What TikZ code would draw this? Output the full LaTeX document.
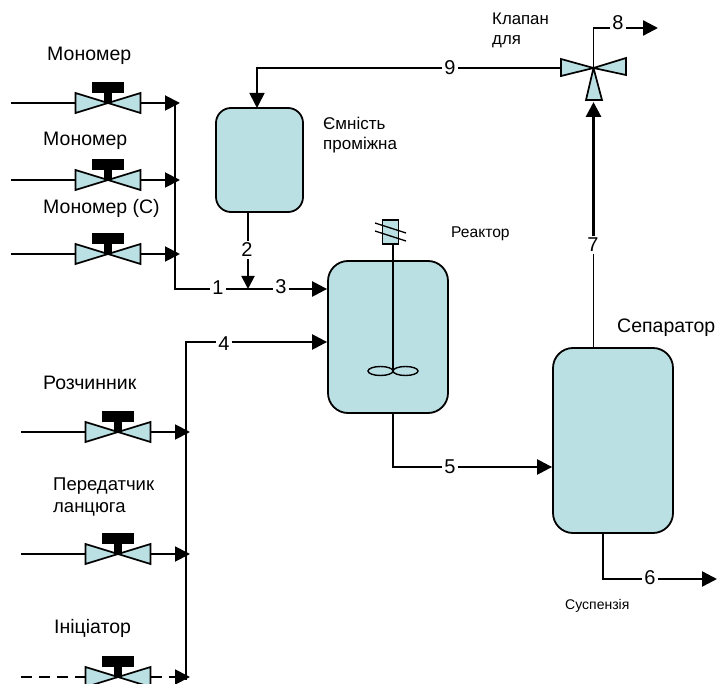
\documentclass[tikz,border=0pt]{standalone}
\usepackage{fontspec}
\setmainfont{Liberation Sans}
\usetikzlibrary{arrows.meta}
\definecolor{tank}{HTML}{BBE0E3}
\tikzset{
  x=1pt,y=-1pt,
  pipe/.style={line width=1.9pt,line join=miter},
  flow/.style={pipe,-{Triangle[length=15pt,width=15pt]}},
  heavy/.style={flow,line width=2.4pt,-{Triangle[length=15pt,width=15pt]}},
  thin pipe/.style={line width=1.3pt},
  vessel/.style={draw,line width=1.8pt,fill=tank,rounded corners=#1,inner sep=0pt},
  num/.style={font=\fontsize{20}{20}\selectfont,inner sep=2pt,outer sep=0pt},
  lab/.style={font=\fontsize{19.5}{22}\selectfont,align=left,inner sep=0pt},
  small/.style={align=left,inner sep=0pt},
  body/.style={draw,line width=1.7pt,fill=tank,line join=miter},
  valve/.pic={
    \coordinate (-w) at (-32.5,0);
    \coordinate (-e) at (32.5,0);
    \path[body] (0,0) -- (-32.5,-10) -- (-32.5,10) -- cycle;
    \path[body] (0,0) -- (32.5,-10) -- (32.5,10) -- cycle;
    \fill (-4,-11) rectangle (4,0);
    \fill (-16,-21) rectangle (16,-10);
  }
}
\begin{document}
\begin{tikzpicture}
\useasboundingbox (0,0) rectangle (717,684);
\begin{scope}
\clip (0,0) rectangle (717,684);
% feed valves
\pic (v1) at (108,103) {valve};
\pic (v2) at (108,180) {valve};
\pic (v3) at (108,254) {valve};
\pic (v4) at (118,432) {valve};
\pic (v5) at (118,554) {valve};
\pic (v6) at (118,677) {valve};
\foreach \n/\y in {1/103,2/180,3/254}{
  \coordinate (s\n) at (11,\y);
  \coordinate (j\n) at (180,\y);
  \draw[pipe] (s\n) -- (v\n-w);
  \draw[flow] (v\n-e) -- (j\n);
}
\foreach \n/\y in {4/432,5/554}{
  \coordinate (s\n) at (21,\y);
  \coordinate (j\n) at (190,\y);
  \draw[pipe] (s\n) -- (v\n-w);
  \draw[flow] (v\n-e) -- (j\n);
}
\coordinate (s6) at (21,677);
\coordinate (j6) at (190,677);
\draw[pipe,dash pattern=on 11pt off 7pt] (s6) -- (v6-w);
\draw[flow,dash pattern=on 11pt off 7pt] (v6-e) -- (j6);
\end{scope}

% vessels
\node[vessel=15pt,minimum width=87pt,minimum height=104pt] (tankA) at (259.5,160) {};
\node[vessel=20pt,minimum width=120pt,minimum height=152pt] (reactor) at (388,337) {};
\node[vessel=20pt,minimum width=120pt,minimum height=185pt] (sep) at (613,440.5) {};

% agitator
\node[draw,line width=1.5pt,fill=tank,minimum width=16pt,minimum height=24pt,inner sep=0pt] (motor) at (390.5,232) {};
\coordinate (sl1a) at (375,223); \coordinate (sl1b) at (406,233);
\coordinate (sl2a) at (375,231); \coordinate (sl2b) at (406,241);
\draw[thin pipe] (sl1a) -- (sl1b);
\draw[thin pipe] (sl2a) -- (sl2b);
\coordinate (hub) at (393,371);
\draw[line width=1.4pt] (hub) ++(-12.5,0) ellipse (12.5pt and 4.5pt);
\draw[line width=1.4pt] (hub) ++(12.5,0) ellipse (12.5pt and 4.5pt);
\draw[line width=1.4pt] (393,244) -- (hub);

% line numbers
\node[num] (n1) at (218,288) {1};
\node[num] (n2) at (247,250) {2};
\node[num] (n3) at (281,287) {3};
\node[num] (n4) at (224,344) {4};
\node[num] (n5) at (450,467) {5};
\node[num] (n6) at (650,578) {6};
\node[num] (n7) at (593,245) {7};
\node[num] (n8) at (618,23) {8};
\node[num] (n9) at (450,68) {9};

% collectors
\coordinate (c1) at (175,289);
\draw[pipe] (175,103) -- (c1) -- (n1.west |- c1);
\draw[pipe] (n1.east |- c1) -- (n3.west |- c1);
\coordinate (c4) at (186,342);
\draw[pipe] (186,680) -- (c4) -- (n4.west |- c4);
\draw[heavy] (n4.east |- 0,342) -- (reactor.west |- 0,342);
\draw[heavy] (n3.east |- 0,289) -- (reactor.west |- 0,289);

% line 2
\coordinate (a2) at (248,212);
\draw[thin pipe] (a2) -- (n2.north -| a2);
\draw[pipe,-{Triangle[length=13pt,width=13pt]}] (n2.south -| a2) -- (248,289);

% line 5
\coordinate (r5) at (393,413);
\coordinate (k5) at (393,467);
\draw[pipe] (r5) -- (k5) -- (n5.west |- k5);
\draw[heavy] (n5.east |- k5) -- (sep.west |- k5);

% line 6
\coordinate (s6b) at (603,533);
\coordinate (k6) at (603,579);
\draw[pipe] (s6b) -- (k6) -- (n6.west |- k6);
\coordinate (out6) at (717,579);
\draw[heavy] (n6.east |- k6) -- (out6);

% three-way valve
\coordinate (tv) at (593.5,68);
\path[body] (tv) -- (561,59) -- (561,76) -- cycle;
\path[body] (tv) -- (626,58) -- (626,75) -- cycle;
\path[body] (tv) -- (586,100) -- (602,100) -- cycle;

% line 9
\coordinate (k9) at (257,68);
\draw[thin pipe,line width=1.7pt,-{Triangle[length=15pt,width=15pt]}] (n9.west |- k9) -- (k9) -- (257,108);
\draw[thin pipe,line width=1.7pt] (n9.east) -- (561,68);

% line 8
\coordinate (k8) at (593.5,28);
\coordinate (out8) at (658,28);
\draw[pipe] (tv) -- (k8) -- (n8.west |- k8);
\draw[heavy] (n8.east |- k8) -- (out8);

% line 7
\coordinate (t7) at (593.5,348);
\draw[pipe] (t7) -- (n7.south -| t7);
\draw[line width=3pt,-{Triangle[length=15pt,width=15pt]}] (n7.north -| t7) -- (593.5,102);

% labels
\node[lab,anchor=base west] (t1) at (47,61) {Мономер};
\node[lab,anchor=base west] (t2) at (43,146) {Мономер};
\node[lab,anchor=base west] (t3) at (43,214) {Мономер (С)};
\node[lab,anchor=base west] (t4) at (43,389) {Розчинник};
\node[small,font=\fontsize{18.5}{22}\selectfont,anchor=base west] (t5a) at (53,490) {Передатчик};
\node[small,font=\fontsize{18.5}{22}\selectfont,anchor=base west] (t5b) at (53,512) {ланцюга};
\node[lab,anchor=base west] (t6) at (54,633) {Ініціатор};
\node[small,font=\fontsize{16.8}{20}\selectfont,anchor=base west] (t7l) at (492,25) {Клапан};
\node[small,font=\fontsize{16.8}{20}\selectfont,anchor=base west] (t7m) at (492,45) {для};
\node[small,font=\fontsize{17}{20}\selectfont,anchor=base west] (t8) at (323,130) {Ємність};
\node[small,font=\fontsize{17}{20}\selectfont,anchor=base west] (t9) at (323,150) {проміжна};
\node[small,font=\fontsize{15.6}{20}\selectfont,anchor=base west] (t10) at (451,238) {Реактор};
\node[lab,anchor=base west] (t11) at (617,333) {Сепаратор};
\node[small,font=\fontsize{14}{20}\selectfont,anchor=base west] (t12) at (565,609) {Суспензія};
\end{tikzpicture}
\end{document}
